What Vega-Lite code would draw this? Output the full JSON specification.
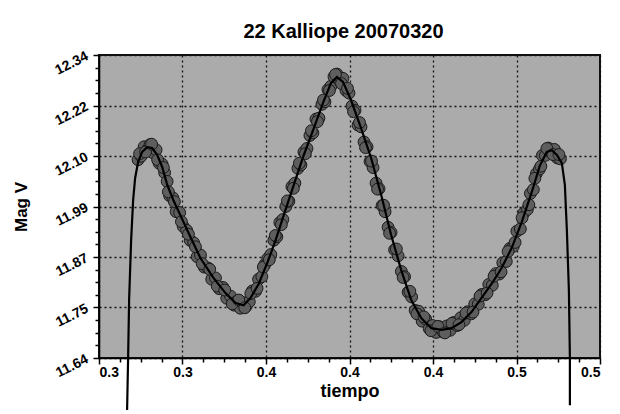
{
  "$schema": "https://vega.github.io/schema/vega-lite/v6.json",
  "width": 501,
  "height": 303,
  "autosize": {"type": "none"},
  "padding": {"left": 99, "top": 55, "right": 20, "bottom": 56},
  "background": "white",
  "title": {"text": "22 Kalliope 20070320", "font": "Liberation Sans", "fontSize": 20, "fontWeight": "bold", "color": "black", "anchor": "middle", "offset": 7, "dx": -6},
  "config": {
    "view": {"fill": "#ababab", "stroke": "#111", "strokeWidth": 2},
    "axis": {"labelFont": "Liberation Sans", "labelFontWeight": "bold", "labelColor": "black", "titleFont": "Liberation Sans", "titleFontWeight": "bold", "titleColor": "black", "domainColor": "black", "tickColor": "black"}
  },
  "datasets": {
    "obs": [
      {"t": 0.3156, "mag": 12.098}, {"t": 0.3168, "mag": 12.106}, {"t": 0.3180, "mag": 12.128}, {"t": 0.3192, "mag": 12.120},
      {"t": 0.3204, "mag": 12.133}, {"t": 0.3216, "mag": 12.114}, {"t": 0.3228, "mag": 12.121}, {"t": 0.3240, "mag": 12.090},
      {"t": 0.3252, "mag": 12.088}, {"t": 0.3262, "mag": 12.068}, {"t": 0.3272, "mag": 12.048}, {"t": 0.3282, "mag": 12.015},
      {"t": 0.3295, "mag": 12.010}, {"t": 0.3308, "mag": 11.978}, {"t": 0.3322, "mag": 11.976}, {"t": 0.3336, "mag": 11.944},
      {"t": 0.3350, "mag": 11.935}, {"t": 0.3364, "mag": 11.912}, {"t": 0.3378, "mag": 11.906}, {"t": 0.3392, "mag": 11.874},
      {"t": 0.3405, "mag": 11.878}, {"t": 0.3420, "mag": 11.850}, {"t": 0.3435, "mag": 11.848}, {"t": 0.3450, "mag": 11.822},
      {"t": 0.3465, "mag": 11.825}, {"t": 0.3480, "mag": 11.800}, {"t": 0.3495, "mag": 11.803}, {"t": 0.3510, "mag": 11.778},
      {"t": 0.3525, "mag": 11.783}, {"t": 0.3540, "mag": 11.762}, {"t": 0.3552, "mag": 11.772}, {"t": 0.3564, "mag": 11.755},
      {"t": 0.3576, "mag": 11.768}, {"t": 0.3588, "mag": 11.760}, {"t": 0.3600, "mag": 11.770}, {"t": 0.3612, "mag": 11.795},
      {"t": 0.3625, "mag": 11.794}, {"t": 0.3637, "mag": 11.822}, {"t": 0.3650, "mag": 11.828}, {"t": 0.3662, "mag": 11.856},
      {"t": 0.3674, "mag": 11.870}, {"t": 0.3686, "mag": 11.879}, {"t": 0.3698, "mag": 11.912}, {"t": 0.3710, "mag": 11.920},
      {"t": 0.3722, "mag": 11.953}, {"t": 0.3734, "mag": 11.960}, {"t": 0.3746, "mag": 11.990}, {"t": 0.3758, "mag": 12.002},
      {"t": 0.3770, "mag": 12.036}, {"t": 0.3782, "mag": 12.044}, {"t": 0.3794, "mag": 12.078}, {"t": 0.3806, "mag": 12.086},
      {"t": 0.3818, "mag": 12.116}, {"t": 0.3830, "mag": 12.124}, {"t": 0.3842, "mag": 12.154}, {"t": 0.3854, "mag": 12.160},
      {"t": 0.3866, "mag": 12.192}, {"t": 0.3878, "mag": 12.194}, {"t": 0.3890, "mag": 12.226}, {"t": 0.3902, "mag": 12.232},
      {"t": 0.3914, "mag": 12.260}, {"t": 0.3926, "mag": 12.268}, {"t": 0.3938, "mag": 12.290}, {"t": 0.3950, "mag": 12.296},
      {"t": 0.3962, "mag": 12.279}, {"t": 0.3974, "mag": 12.286}, {"t": 0.3986, "mag": 12.258}, {"t": 0.3998, "mag": 12.252},
      {"t": 0.4010, "mag": 12.222}, {"t": 0.4022, "mag": 12.212}, {"t": 0.4034, "mag": 12.178}, {"t": 0.4046, "mag": 12.174},
      {"t": 0.4058, "mag": 12.139}, {"t": 0.4070, "mag": 12.128}, {"t": 0.4082, "mag": 12.094}, {"t": 0.4094, "mag": 12.080},
      {"t": 0.4106, "mag": 12.044}, {"t": 0.4118, "mag": 12.031}, {"t": 0.4130, "mag": 11.992}, {"t": 0.4142, "mag": 11.978},
      {"t": 0.4154, "mag": 11.942}, {"t": 0.4166, "mag": 11.930}, {"t": 0.4180, "mag": 11.890}, {"t": 0.4194, "mag": 11.876},
      {"t": 0.4207, "mag": 11.840}, {"t": 0.4220, "mag": 11.828}, {"t": 0.4234, "mag": 11.792}, {"t": 0.4248, "mag": 11.781},
      {"t": 0.4262, "mag": 11.750}, {"t": 0.4276, "mag": 11.748}, {"t": 0.4290, "mag": 11.725}, {"t": 0.4304, "mag": 11.730},
      {"t": 0.4318, "mag": 11.708}, {"t": 0.4332, "mag": 11.715}, {"t": 0.4346, "mag": 11.699}, {"t": 0.4360, "mag": 11.712},
      {"t": 0.4374, "mag": 11.700}, {"t": 0.4388, "mag": 11.714}, {"t": 0.4402, "mag": 11.704}, {"t": 0.4416, "mag": 11.722},
      {"t": 0.4430, "mag": 11.715}, {"t": 0.4444, "mag": 11.733}, {"t": 0.4458, "mag": 11.727}, {"t": 0.4472, "mag": 11.747},
      {"t": 0.4486, "mag": 11.742}, {"t": 0.4500, "mag": 11.765}, {"t": 0.4514, "mag": 11.764}, {"t": 0.4528, "mag": 11.787},
      {"t": 0.4542, "mag": 11.786}, {"t": 0.4556, "mag": 11.810}, {"t": 0.4570, "mag": 11.808}, {"t": 0.4584, "mag": 11.835},
      {"t": 0.4598, "mag": 11.834}, {"t": 0.4612, "mag": 11.860}, {"t": 0.4626, "mag": 11.863}, {"t": 0.4640, "mag": 11.893},
      {"t": 0.4654, "mag": 11.898}, {"t": 0.4668, "mag": 11.933}, {"t": 0.4682, "mag": 11.938}, {"t": 0.4696, "mag": 11.975},
      {"t": 0.4710, "mag": 11.983}, {"t": 0.4722, "mag": 12.020}, {"t": 0.4734, "mag": 12.029}, {"t": 0.4746, "mag": 12.066},
      {"t": 0.4758, "mag": 12.076}, {"t": 0.4770, "mag": 12.108}, {"t": 0.4782, "mag": 12.108}, {"t": 0.4794, "mag": 12.125},
      {"t": 0.4806, "mag": 12.114}, {"t": 0.4818, "mag": 12.122}, {"t": 0.4830, "mag": 12.102}, {"t": 0.4842, "mag": 12.100},
      {"t": 0.3162, "mag": 12.112}, {"t": 0.3186, "mag": 12.116}, {"t": 0.3210, "mag": 12.134}, {"t": 0.3234, "mag": 12.098},
      {"t": 0.3257, "mag": 12.080}, {"t": 0.3277, "mag": 12.024}, {"t": 0.3301, "mag": 12.001}, {"t": 0.3329, "mag": 11.955},
      {"t": 0.3357, "mag": 11.926}, {"t": 0.3385, "mag": 11.897}, {"t": 0.3412, "mag": 11.858}, {"t": 0.3442, "mag": 11.845},
      {"t": 0.3472, "mag": 11.806}, {"t": 0.3502, "mag": 11.797}, {"t": 0.3532, "mag": 11.765}, {"t": 0.3558, "mag": 11.774},
      {"t": 0.3582, "mag": 11.756}, {"t": 0.3606, "mag": 11.789}, {"t": 0.3631, "mag": 11.801}, {"t": 0.3656, "mag": 11.850},
      {"t": 0.3680, "mag": 11.867}, {"t": 0.3704, "mag": 11.923}, {"t": 0.3728, "mag": 11.948}, {"t": 0.3752, "mag": 12.003},
      {"t": 0.3776, "mag": 12.032}, {"t": 0.3800, "mag": 12.090}, {"t": 0.3824, "mag": 12.112}, {"t": 0.3848, "mag": 12.165},
      {"t": 0.3872, "mag": 12.186}, {"t": 0.3896, "mag": 12.236}, {"t": 0.3920, "mag": 12.258}, {"t": 0.3944, "mag": 12.295},
      {"t": 0.3968, "mag": 12.274}, {"t": 0.3992, "mag": 12.263}, {"t": 0.4016, "mag": 12.209}, {"t": 0.4040, "mag": 12.184},
      {"t": 0.4064, "mag": 12.126}, {"t": 0.4088, "mag": 12.095}, {"t": 0.4112, "mag": 12.030}, {"t": 0.4136, "mag": 11.993},
      {"t": 0.4160, "mag": 11.928}, {"t": 0.4187, "mag": 11.892}, {"t": 0.4214, "mag": 11.826}, {"t": 0.4241, "mag": 11.794},
      {"t": 0.4269, "mag": 11.742}, {"t": 0.4297, "mag": 11.735}, {"t": 0.4325, "mag": 11.703}, {"t": 0.4353, "mag": 11.713},
      {"t": 0.4381, "mag": 11.698}, {"t": 0.4409, "mag": 11.720}, {"t": 0.4437, "mag": 11.717}, {"t": 0.4465, "mag": 11.744},
      {"t": 0.4493, "mag": 11.746}, {"t": 0.4521, "mag": 11.783}, {"t": 0.4549, "mag": 11.790}, {"t": 0.4577, "mag": 11.829},
      {"t": 0.4605, "mag": 11.839}, {"t": 0.4633, "mag": 11.886}, {"t": 0.4661, "mag": 11.907}, {"t": 0.4689, "mag": 11.964},
      {"t": 0.4716, "mag": 11.994}, {"t": 0.4740, "mag": 12.055}, {"t": 0.4764, "mag": 12.083}, {"t": 0.4788, "mag": 12.124},
      {"t": 0.4812, "mag": 12.110}, {"t": 0.4836, "mag": 12.110}
    ],
    "fit": [
      {"t": 0.31122, "mag": 11.52}, {"t": 0.31162, "mag": 11.64}, {"t": 0.31202, "mag": 11.774}, {"t": 0.31283, "mag": 11.913},
      {"t": 0.31363, "mag": 12.005}, {"t": 0.31443, "mag": 12.056}, {"t": 0.31563, "mag": 12.093}, {"t": 0.31723, "mag": 12.116},
      {"t": 0.31924, "mag": 12.127}, {"t": 0.32124, "mag": 12.125}, {"t": 0.32325, "mag": 12.109}, {"t": 0.32525, "mag": 12.081},
      {"t": 0.32725, "mag": 12.040}, {"t": 0.32966, "mag": 12.005}, {"t": 0.33246, "mag": 11.970}, {"t": 0.33647, "mag": 11.920},
      {"t": 0.34048, "mag": 11.871}, {"t": 0.34569, "mag": 11.825}, {"t": 0.35050, "mag": 11.790}, {"t": 0.35451, "mag": 11.767},
      {"t": 0.35772, "mag": 11.762}, {"t": 0.36052, "mag": 11.779}, {"t": 0.36373, "mag": 11.811}, {"t": 0.36733, "mag": 11.862},
      {"t": 0.37054, "mag": 11.913}, {"t": 0.37375, "mag": 11.970}, {"t": 0.37776, "mag": 12.040}, {"t": 0.38176, "mag": 12.109},
      {"t": 0.38577, "mag": 12.171}, {"t": 0.38938, "mag": 12.229}, {"t": 0.39259, "mag": 12.275}, {"t": 0.39499, "mag": 12.289},
      {"t": 0.39739, "mag": 12.278}, {"t": 0.40060, "mag": 12.236}, {"t": 0.40461, "mag": 12.171}, {"t": 0.40862, "mag": 12.102},
      {"t": 0.41263, "mag": 12.017}, {"t": 0.41663, "mag": 11.924}, {"t": 0.42064, "mag": 11.843}, {"t": 0.42465, "mag": 11.774},
      {"t": 0.42866, "mag": 11.732}, {"t": 0.43267, "mag": 11.709}, {"t": 0.43667, "mag": 11.705}, {"t": 0.44068, "mag": 11.709},
      {"t": 0.44469, "mag": 11.723}, {"t": 0.44870, "mag": 11.746}, {"t": 0.45271, "mag": 11.779}, {"t": 0.45671, "mag": 11.811},
      {"t": 0.46072, "mag": 11.848}, {"t": 0.46473, "mag": 11.894}, {"t": 0.46874, "mag": 11.954}, {"t": 0.47275, "mag": 12.023},
      {"t": 0.47595, "mag": 12.084}, {"t": 0.47876, "mag": 12.116}, {"t": 0.48076, "mag": 12.120}, {"t": 0.48277, "mag": 12.109},
      {"t": 0.48477, "mag": 12.090}, {"t": 0.48597, "mag": 12.040}, {"t": 0.48677, "mag": 11.936}, {"t": 0.48758, "mag": 11.797},
      {"t": 0.48798, "mag": 11.64}, {"t": 0.48798, "mag": 11.531}
    ]
  },
  "layer": [
    {
      "data": {"name": "obs"},
      "mark": {"type": "point", "filled": true, "fill": "#5e5e5e", "stroke": "#1a1a1a", "strokeWidth": 1, "size": 140, "opacity": 1},
      "encoding": {
        "x": {"field": "t", "type": "quantitative", "scale": {"domain": [0.3, 0.5], "nice": false, "zero": false},
          "axis": {"orient": "bottom", "title": "tiempo", "titleFontSize": 18, "titlePadding": 3, "values": [0.3, 0.333333, 0.366667, 0.4, 0.433333, 0.466667, 0.5], "format": ".1f", "labelFontSize": 14, "labelPadding": 1, "tickSize": 6, "tickWidth": 1.5, "domainWidth": 1.5, "grid": true, "gridColor": "#111", "gridDash": [2, 3], "gridWidth": 1.3, "gridOpacity": 1}},
        "y": {"field": "mag", "type": "quantitative", "scale": {"domain": [11.64, 12.34], "nice": false, "zero": false},
          "axis": {"orient": "left", "title": "Mag V", "titleFontSize": 17, "titlePadding": 22, "values": [11.64, 11.756667, 11.873333, 11.99, 12.106667, 12.223333, 12.34],
            "labelExpr": "datum.value < 11.7 ? '11.64' : datum.value < 11.8 ? '11.75' : datum.value < 11.9 ? '11.87' : datum.value < 12.05 ? '11.99' : datum.value < 12.15 ? '12.10' : datum.value < 12.3 ? '12.22' : '12.34'",
            "labelFontSize": 14, "labelAngle": -27, "labelAlign": "right", "labelBaseline": "middle", "labelPadding": 6, "tickSize": 6, "tickWidth": 1.5, "domainWidth": 1.5, "grid": true, "gridColor": "#111", "gridDash": [2, 3], "gridWidth": 1.3, "gridOpacity": 1}}
      }
    },
    {
      "data": {"name": "fit"},
      "mark": {"type": "line", "color": "black", "strokeWidth": 2.2, "interpolate": "linear"},
      "encoding": {
        "x": {"field": "t", "type": "quantitative", "sort": null, "scale": {"domain": [0.3, 0.5], "nice": false, "zero": false},
          "axis": {"orient": "bottom", "title": null, "labels": false, "domain": false, "grid": false, "tickSize": 4, "tickWidth": 1.5, "tickColor": "black",
            "values": [0.308333, 0.316667, 0.325, 0.341667, 0.35, 0.358333, 0.375, 0.383333, 0.391667, 0.408333, 0.416667, 0.425, 0.441667, 0.45, 0.458333, 0.475, 0.483333, 0.491667]}},
        "y": {"field": "mag", "type": "quantitative", "scale": {"domain": [11.64, 12.34], "nice": false, "zero": false},
          "axis": {"orient": "left", "title": null, "labels": false, "domain": false, "grid": false, "tickSize": 4, "tickWidth": 1.5, "tickColor": "black",
            "values": [11.669167, 11.698333, 11.7275, 11.785833, 11.815, 11.844167, 11.9025, 11.931667, 11.960833, 12.019167, 12.048333, 12.0775, 12.135833, 12.165, 12.194167, 12.2525, 12.281667, 12.310833]}},
        "order": {"field": "t", "type": "quantitative"}
      }
    }
  ],
  "resolve": {"scale": {"x": "independent", "y": "independent"}, "axis": {"x": "independent", "y": "independent"}}
}
